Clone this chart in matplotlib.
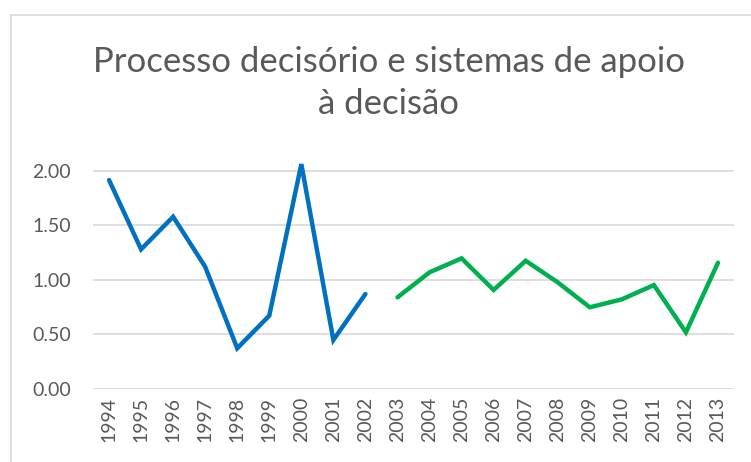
import matplotlib
matplotlib.use("Agg")
import matplotlib.pyplot as plt
from matplotlib.lines import Line2D

years = [str(y) for y in range(1994, 2014)]
blue_years = years[:9]
blue_vals = [1.915, 1.279, 1.578, 1.119, 0.371, 0.670, 2.061, 0.447, 0.869]
green_years = years[9:]
green_vals = [0.838, 1.068, 1.196, 0.906, 1.174, 0.976, 0.747, 0.820, 0.951, 0.517, 1.156]
yticks = [0.0, 0.5, 1.0, 1.5, 2.0]
title = "Processo decisório e sistemas de apoio\nà decisão"

plt.rcParams['font.family'] = ['Lato', 'DejaVu Sans']
fig = plt.figure(figsize=(7.51, 4.62), dpi=100)
W, H = 751, 462
ax = fig.add_axes([93 / W, 1 - 388.7 / H, (734 - 93) / W, (388.7 - 154.4) / H])

xpos = {y: i for i, y in enumerate(years)}
ax.plot([xpos[y] for y in blue_years], blue_vals, color="#0070C0", lw=3.2,
        solid_capstyle="round", solid_joinstyle="miter", clip_on=False)
ax.plot([xpos[y] for y in green_years], green_vals, color="#00B050", lw=3.2,
        solid_capstyle="round", solid_joinstyle="miter", clip_on=False)

ax.set_xlim(-0.5, len(years) - 0.5)
ax.set_ylim(0, 2.15)
ax.set_yticks(yticks)
ax.set_yticklabels([f"{v:.2f}" for v in yticks])
ax.set_xticks(range(len(years)))
ax.set_xticklabels(years, rotation=90)
ax.tick_params(length=0, colors="#595959", labelsize=14)
ax.tick_params(axis='y', pad=16)
ax.tick_params(axis='x', pad=6)
for s in ax.spines.values():
    s.set_visible(False)
ax.grid(axis='y', color="#D9D9D9", lw=1.2)
ax.set_axisbelow(True)

fig.text(389 / W, 1 - 83 / H, title, ha='center', va='center', fontsize=25,
         color="#595959", linespacing=1.38)

fig.add_artist(Line2D([11 / W, 11 / W], [0, 1 - 15 / H], color="#D9D9D9", lw=1.2,
                      transform=fig.transFigure))
fig.add_artist(Line2D([11 / W, 1], [1 - 15 / H, 1 - 15 / H], color="#D9D9D9", lw=1.2,
                      transform=fig.transFigure))

fig.savefig("out.png", dpi=100)
